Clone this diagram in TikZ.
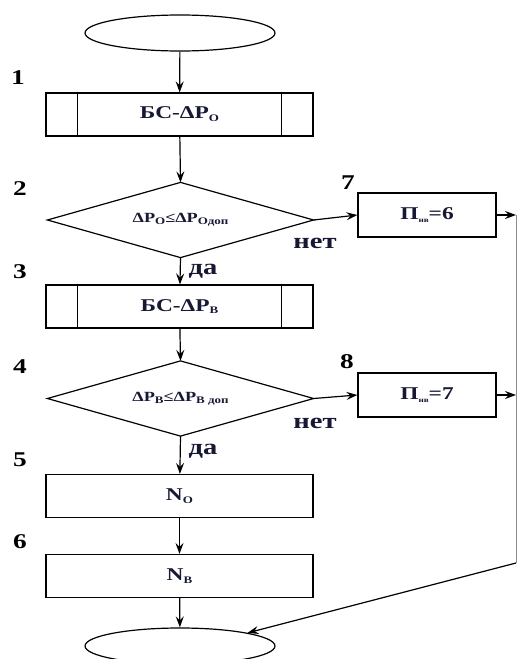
\documentclass[tikz,border=0pt]{standalone}
\usepackage{fontspec}
\setmainfont{Liberation Serif}[FakeStretch=1.3]
\usetikzlibrary{shapes.geometric,arrows.meta}
\newcommand\lw[1]{\raisebox{-0.35ex}{\fontsize{10}{10}\selectfont #1}}
\newcommand\lwx[1]{\raisebox{-0.3ex}{\fontsize{7}{7}\selectfont #1}}
\definecolor{ink}{RGB}{22,24,52}
\begin{document}
\begin{tikzpicture}[x=1pt,y=-1pt,
  font=\bfseries,
  line width=1.2pt,
  arr/.style={-{Stealth[length=11pt,width=8pt,inset=4pt]}},
  term/.style={draw,ellipse,minimum width=190pt,minimum height=36pt,inner sep=0pt},
  proc/.style={draw,rectangle,minimum width=267pt,minimum height=43pt,inner sep=0pt,
    text=ink,font=\bfseries\fontsize{18}{18}\selectfont},
  side/.style={draw,rectangle,minimum width=138pt,minimum height=44pt,inner sep=0pt,
    text=ink,font=\bfseries\fontsize{18}{18}\selectfont},
  cond/.style={rectangle,minimum width=265pt,minimum height=74pt,inner sep=0pt,
    text=ink,font=\bfseries\fontsize{14}{14}\selectfont},
  num/.style={font=\bfseries\fontsize{21}{21}\selectfont},
  ans/.style={text=ink,font=\bfseries\fontsize{22}{22}\selectfont}]
\useasboundingbox (0,0) rectangle (517,659);

% blocks of the main column
\node[term] (top) at (180,33) {};
\node[proc] (b1) at (179.5,114.5) {БС-ΔP\lw{O}};
\node[cond] (d2) at (180.5,220) {ΔP\lw{O}≤ΔP\lw{Одоп}};
\node[proc] (b3) at (179.5,306.5) {БС-ΔP\lw{В}};
\node[cond] (d4) at (180.5,398.5) {ΔP\lw{В}≤ΔP\lw{В доп}};
\node[proc] (b5) at (179.5,496) {N\lw{O}};
\node[proc] (b6) at (179.5,576) {N\lw{В}};
\node[term] (bot) at (180,646) {};

% side branches
\node[side] (b7) at (427,215) {П\lwx{нв}=6};
\node[side] (b8) at (427,395) {П\lwx{нв}=7};

% decision outlines
\draw (d2.north) -- (d2.east) -- (d2.south) -- (d2.west) -- cycle;
\draw (d4.north) -- (d4.east) -- (d4.south) -- (d4.west) -- cycle;

% predefined-process side bars
\foreach \b in {b1,b3}{
  \draw ([xshift=32pt]\b.north west) -- ([xshift=32pt]\b.south west);
  \draw ([xshift=-32pt]\b.north east) -- ([xshift=-32pt]\b.south east);
}

% block numbers
\node[num] (n1) at (18,78) {1};
\node[num] (n2) at (20,189) {2};
\node[num] (n3) at (20,272) {3};
\node[num] (n4) at (20,367) {4};
\node[num] (n5) at (20,460) {5};
\node[num] (n6) at (20,542) {6};
\node[num] (n7) at (348,183) {7};
\node[num] (n8) at (347,362) {8};

% answers
\node[ans] (no1) at (315,243) {нет};
\node[ans] (yes1) at (203,271) {да};
\node[ans] (no2) at (315,423) {нет};
\node[ans] (yes2) at (203,451) {да};

% main flow
\draw[arr] (top) -- (b1);
\draw[arr] (b1) -- (d2.north);
\draw[arr] (d2.south) -- (b3);
\draw[arr] (b3) -- (d4.north);
\draw[arr] (d4.south) -- (b5);
\draw[arr] (b5) -- (b6);
\draw[arr] (b6) -- (bot);

% branches to the right
\draw[arr] (d2.east) -- (b7.west);
\draw[arr] (d4.east) -- (b8.west);
\coordinate (r1) at (516,215);
\coordinate (r2) at (516,563);
\draw[arr] (b7.east) -- (r1);
\draw[arr] (b8.east) -- (b8.east -| r1);
\draw[line width=0.6pt,black!45] (r1) -- (r2);
\draw[arr] (r2) -- (bot.north east);
\end{tikzpicture}
\end{document}
